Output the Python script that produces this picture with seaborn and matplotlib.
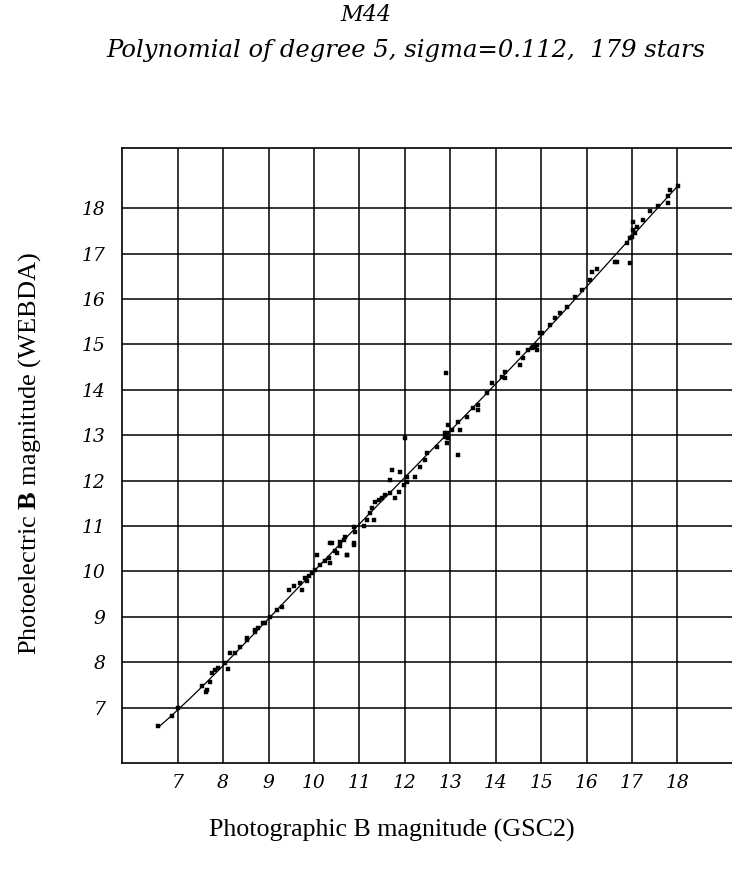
import numpy as np
import pandas as pd
import matplotlib
matplotlib.use("Agg")
import matplotlib.pyplot as plt
import seaborn as sns

# Photographic (GSC2) and photoelectric (WEBDA) B magnitudes of M44 stars
gsc2_b = [
    6.57, 6.87, 7.01, 7.53, 7.64, 7.62, 7.71, 7.75, 7.82, 7.89, 8.04, 8.11, 8.15, 8.26,
    8.37, 8.52, 8.70, 8.77, 8.92, 8.52, 8.70, 8.88, 9.03, 9.18, 9.29, 9.44, 9.55, 9.69,
    9.73, 9.80, 9.88, 9.84, 9.95, 10.02, 10.06, 10.13, 10.24, 10.32, 10.35, 10.39, 10.50,
    10.57, 10.65, 10.72, 10.87, 10.90, 11.09, 10.35, 10.46, 10.57, 10.68, 10.72, 10.87,
    10.87, 11.16, 11.23, 11.27, 11.31, 11.34, 11.42, 11.49, 11.56, 11.67, 11.71, 11.67,
    11.78, 11.86, 11.89, 11.97, 12.04, 12.04, 12.00, 12.22, 12.33, 12.44, 12.48, 12.70,
    12.88, 12.92, 12.96, 13.18, 12.91, 12.89, 12.96, 12.92, 13.03, 13.18, 13.22, 13.36,
    13.51, 13.62, 13.62, 13.80, 13.91, 14.13, 14.21, 14.21, 14.50, 14.54, 14.61, 14.72,
    14.79, 14.87, 14.90, 14.98, 14.83, 14.90, 15.01, 15.20, 15.31, 15.42, 15.56, 15.75,
    15.89, 16.08, 16.11, 16.22, 16.66, 16.96, 16.89, 16.96, 17.07, 16.63, 17.00, 17.03,
    17.03, 17.11, 17.25, 17.40, 17.58, 17.80, 17.80, 17.84, 18.02,
]
webda_b = [
    6.60, 6.82, 6.99, 7.48, 7.39, 7.35, 7.57, 7.76, 7.83, 7.87, 7.98, 7.85, 8.20, 8.20,
    8.34, 8.49, 8.67, 8.75, 8.87, 8.53, 8.71, 8.86, 9.00, 9.15, 9.22, 9.59, 9.67, 9.74,
    9.59, 9.85, 9.89, 9.78, 9.96, 10.03, 10.36, 10.14, 10.22, 10.29, 10.18, 10.62, 10.40,
    10.55, 10.69, 10.36, 10.62, 10.88, 11.00, 10.62, 10.44, 10.66, 10.77, 10.36, 10.99,
    10.58, 11.13, 11.28, 11.39, 11.13, 11.54, 11.57, 11.61, 11.68, 11.72, 12.24, 12.02,
    11.61, 11.76, 12.20, 11.91, 11.98, 12.09, 12.93, 12.09, 12.31, 12.46, 12.60, 12.75,
    12.97, 13.04, 13.23, 12.57, 14.37, 13.04, 12.93, 12.82, 13.12, 13.30, 13.12, 13.41,
    13.59, 13.67, 13.56, 13.92, 14.15, 14.29, 14.40, 14.26, 14.81, 14.55, 14.70, 14.88,
    14.92, 14.95, 14.88, 15.25, 14.95, 14.99, 15.25, 15.43, 15.58, 15.69, 15.83, 16.05,
    16.20, 16.42, 16.60, 16.66, 16.82, 16.79, 17.23, 17.34, 17.45, 16.82, 17.37, 17.52,
    17.70, 17.59, 17.74, 17.93, 18.04, 18.11, 18.26, 18.40, 18.49,
]
ticks = [7, 8, 9, 10, 11, 12, 13, 14, 15, 16, 17, 18]
fit_degree = 5

stars = pd.DataFrame({"gsc2": gsc2_b, "webda": webda_b})

# degree-5 polynomial calibration over the magnitude range of the stars
coef = np.polyfit(stars["gsc2"], stars["webda"], fit_degree)
xs = np.linspace(stars["gsc2"].min(), stars["gsc2"].max(), 200)
fit = pd.DataFrame({"gsc2": xs, "webda": np.polyval(coef, xs)})

sns.set_theme(style="white")
plt.rcParams["font.family"] = ["DejaVu Serif"]
plt.rcParams["text.color"] = "black"
plt.rcParams["xtick.color"] = "black"
plt.rcParams["ytick.color"] = "black"
plt.rcParams["mathtext.fontset"] = "custom"
plt.rcParams["mathtext.rm"] = "Liberation Serif"
plt.rcParams["mathtext.bf"] = "Liberation Serif:bold"

W, H = 732, 872
fig = plt.figure(figsize=(W / 100, H / 100), dpi=100)
ax = fig.add_axes([122 / W, (H - 763.3) / H, (W - 122) / W, (763.3 - 148.3) / H])

ax.set_xlim(5.774, 19.20)
ax.set_ylim(5.775, 19.32)
ax.set_xticks(ticks)
ax.set_yticks(ticks)
ax.grid(True, color="black", linewidth=1.1)
ax.set_axisbelow(True)
for side in ("left", "bottom", "top"):
    ax.spines[side].set_color("black")
    ax.spines[side].set_linewidth(1.2)
ax.spines["right"].set_visible(False)

sns.lineplot(data=fit, x="gsc2", y="webda", color="black", linewidth=0.9,
             ax=ax, zorder=3)
sns.scatterplot(data=stars, x="gsc2", y="webda", marker="s", s=11, color="black",
                edgecolor="black", linewidth=0.3, ax=ax, zorder=4)

ax.tick_params(length=0, labelsize=13.5, labelcolor="black")
ax.tick_params(axis="x", pad=8)
ax.tick_params(axis="y", pad=12)
for lab in ax.get_xticklabels() + ax.get_yticklabels():
    lab.set_fontstyle("italic")
    lab.set_family("DejaVu Serif")
ax.set_xlabel("")
ax.set_ylabel("")

fig.text(391.5 / W, (H - 830) / H, "Photographic B magnitude (GSC2)",
         ha="center", va="center", fontsize=18.7, family="Liberation Serif",
         color="black")
fig.text(30 / W, (H - 454) / H, r"Photoelectric $\mathbf{B}$ magnitude (WEBDA)",
         ha="center", va="center", rotation=90, fontsize=19, family="Liberation Serif",
         color="black")
fig.text(366 / W, (H - 15) / H, "M44", ha="center", va="center", fontsize=16,
         style="italic", color="black")
fig.text(406 / W, (H - 50) / H, "Polynomial of degree 5, sigma=0.112,  179 stars",
         ha="center", va="center", fontsize=17.5, style="italic", color="black")

fig.savefig("out.png", dpi=100)
